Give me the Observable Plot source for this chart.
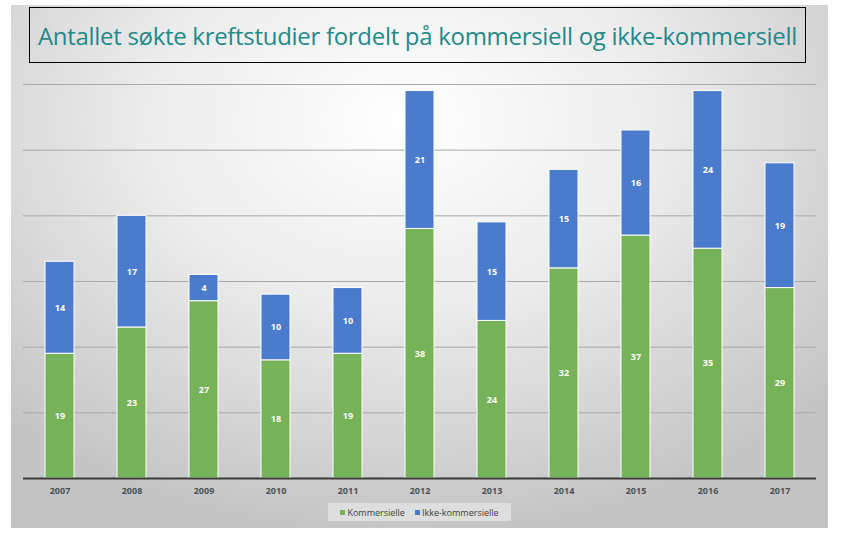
<!DOCTYPE html>
<html><head><meta charset="utf-8">
<script src="https://cdn.jsdelivr.net/npm/d3@7"></script>
<script src="https://cdn.jsdelivr.net/npm/@observablehq/plot@0.6"></script>
<style>
html,body{margin:0;padding:0;background:#fff;}
#wrap{position:relative;width:852px;height:542px;overflow:hidden;font-family:"Open Sans",sans-serif;}
#panel{position:absolute;left:11px;top:5px;width:817px;height:523px;
 background:radial-gradient(ellipse 70% 80% at 48% 22%, #ffffff 0%, #ececec 45%, #d2d2d2 80%, #c4c4c4 100%);}
#title{position:absolute;left:29px;top:7px;width:777px;height:56px;border:1px solid #000;box-sizing:border-box;
 display:flex;align-items:center;justify-content:center;color:#1e8a8a;font-size:24px;font-family:"Open Sans",sans-serif;letter-spacing:-0.3px;}
#chart{position:absolute;left:0;top:0;}
#legend{position:absolute;left:328px;top:503px;width:183px;height:18px;background:#dedede;
 display:flex;align-items:center;justify-content:center;gap:10px;font-size:9px;color:#404040;}
#legend span.sw{display:inline-block;width:5px;height:5px;margin-right:2px;vertical-align:1px;}
</style></head>
<body>
<div id="wrap">
 <div id="panel"></div>
 <div id="chart"></div>
 <div id="title">Antallet søkte kreftstudier fordelt på kommersiell og ikke-kommersiell</div>
 <div id="legend"></div>
</div>
<script>
const years = ["2007","2008","2009","2010","2011","2012","2013","2014","2015","2016","2017"];
const kommersielle = [19,23,27,18,19,38,24,32,37,35,29];
const ikkeKommersielle = [14,17,4,10,10,21,15,15,16,24,19];
const seriesNames = ["Kommersielle","Ikke-kommersielle"];
const colors = ["#76b257","#4a7bcc"];

const data = [];
years.forEach((y,i)=>{
  data.push({year:y, series:seriesNames[0], value:kommersielle[i]});
  data.push({year:y, series:seriesNames[1], value:ikkeKommersielle[i]});
});

const chart = Plot.plot({
  width: 852, height: 500,
  marginLeft: 23, marginRight: 36, marginTop: 84, marginBottom: 22,
  style: {background:"transparent", fontFamily:"Open Sans, sans-serif"},
  x: {domain: years, paddingInner: 0.6, paddingOuter: 0.3, label: null, tickSize: 0, tickPadding: 9},
  y: {domain: [0,60], ticks: [10,20,30,40,50,60], axis: null},
  color: {domain: seriesNames, range: colors},
  marks: [
    Plot.ruleY([10,20,30,40,50,60], {stroke:"#a8a8a8", strokeWidth:1}),
    Plot.barY(data, {x:"year", y:"value", fill:"series", order: seriesNames, stroke:"#ffffff", strokeWidth:1}),
    Plot.text(data, Plot.stackY({x:"year", y:"value", z:"series", order: seriesNames, text:"value", fill:"white", fontWeight:"bold", fontSize:9})),
    Plot.ruleY([0], {stroke:"#3a3a3a", strokeWidth:2}),
    Plot.axisX({tickSize:0, tickPadding:9, fontSize:9, fontWeight:"bold", color:"#505050", label:null})
  ]
});
document.getElementById("chart").appendChild(chart);

const leg = document.getElementById("legend");
seriesNames.forEach((s,i)=>{
  const d = document.createElement("div");
  d.innerHTML = `<span class="sw" style="background:${colors[i]}"></span>${s}`;
  leg.appendChild(d);
});
</script>
</body></html>
